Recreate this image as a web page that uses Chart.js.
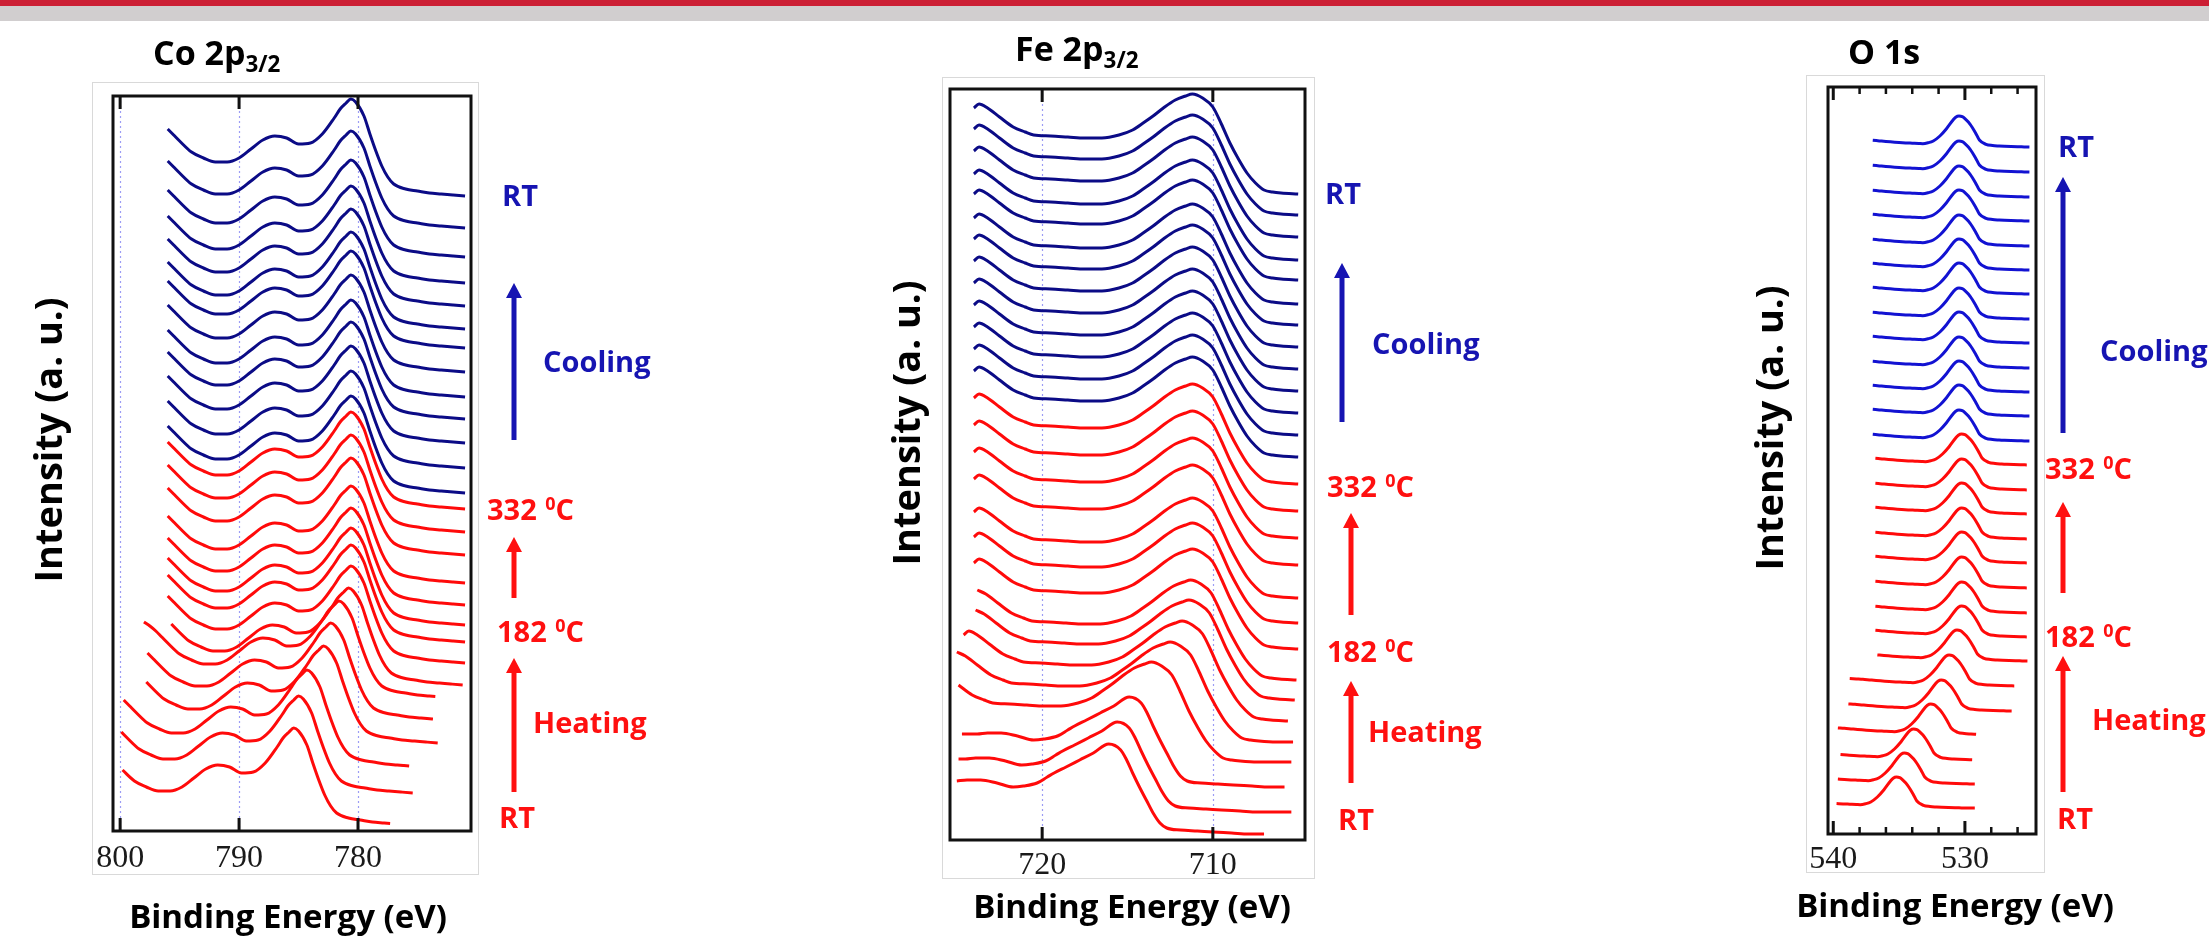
<!DOCTYPE html>
<html>
<head>
<meta charset="utf-8">
<title>In situ XPS heating / cooling series</title>
<script src="https://cdn.jsdelivr.net/npm/chart.js@4.4.1/dist/chart.umd.min.js"></script>
<style>
  html, body { margin: 0; padding: 0; background: #fff; }
  body { position: relative; width: 2209px; height: 943px; overflow: hidden; font-family: "Open Sans", sans-serif; }
  #topRed { position: absolute; left: 0; top: 0; width: 100%; height: 6px; background: #cc1f35; }
  #topGray { position: absolute; left: 0; top: 6px; width: 100%; height: 15px; background: #d1cecf; }
  .box { position: absolute; border: 1px solid #d9d9d9; box-sizing: border-box; }
  canvas { position: absolute; }
  .lbl { position: absolute; font-weight: 700; line-height: 1; white-space: nowrap; }
  .lbl sup { font-size: 62%; position: relative; top: -0.55em; vertical-align: baseline; margin-left: 0.05em; }
  .lbl sub { font-size: 66%; position: relative; top: 0.32em; vertical-align: baseline; }
  svg { position: absolute; left: 0; top: 0; }
</style>
</head>
<body>
<div id="topRed"></div>
<div id="topGray"></div>

<div class="box" style="left:92px;top:82px;width:387px;height:793px"></div>
<div class="box" style="left:942px;top:77px;width:373px;height:802px"></div>
<div class="box" style="left:1806px;top:75px;width:239px;height:798px"></div>

<canvas id="coChart"></canvas>
<canvas id="feChart"></canvas>
<canvas id="oChart"></canvas>

<svg id="arrows" width="2209" height="943"></svg>

<script>
// ---------- data (energies in eV, intensities in a.u.) ----------
// 28 scans per core level: first 13 = cooling back to RT, next 15 = heating from RT
const coolingCount = 13;

// Co 2p3/2 line shape (scan at 332 C / cooling)
const coEnergy = [797.0, 796.5, 796.0, 795.5, 795.0, 794.0, 793.0, 792.0, 791.0, 790.0, 789.0, 788.0, 787.0, 786.0, 785.0, 784.0, 783.0, 782.0, 781.5, 781.0, 780.6, 780.2, 779.5, 779.0, 778.5, 778.0, 777.5, 777.0, 776.0, 775.0, 774.0, 773.0, 772.5, 772.0, 771.0, 770.0];
const coShape  = [76, 72, 67, 61, 55, 44, 38, 34, 34, 38, 47, 56, 60, 58, 52, 53, 62, 78, 87, 93, 97, 94, 80, 62, 45, 30, 19, 12, 7, 5, 3, 2, 1.5, 1, 0, 0];
// stacking offset, peak shift (charging) and scan window of every trace, top to bottom
const coOffset = [635, 603, 574, 548, 525, 502, 483, 459, 434, 412, 388, 363, 338, 322, 299, 276, 248, 226, 206, 189, 168, 146, 133, 111, 88, 64, 38, 6];
const coShift  = [0, 0, 0, 0, 0, 0, 0, 0, 0, 0, 0, 0, 0, 0, 0, 0, 0, 0, 0, 0, 0, 0.2, 1.0, 1.7, 2.3, 3.7, 4.4, 4.8];
const coHigh   = [796, 796, 796, 796, 796, 796, 796, 796, 796, 796, 796, 796, 796, 796, 796, 796, 796, 796, 796, 796, 796, 796, 798.1, 798.1, 798.1, 800, 800, 800];
const coLow    = [771, 771, 771, 771, 771, 771, 771, 771, 771, 771, 771, 771, 771, 771, 771, 771, 771, 771, 771, 771, 771, 771, 773.1, 773.1, 773.1, 775, 775, 777.1];
const coTicks  = [800, 790, 780];

// Fe 2p3/2: shape A (heated / cooled), shape B (as-prepared RT scans)
const feEnergyA = [725.0, 724.5, 724.0, 723.7, 723.2, 722.5, 721.7, 721.0, 720.5, 719.5, 718.5, 717.5, 716.5, 715.5, 714.7, 714.0, 713.5, 712.9, 712.2, 711.6, 711.2, 710.6, 710.0, 709.5, 709.0, 708.5, 708.0, 707.5, 707.0, 706.5, 706.0, 705.0, 704.0, 703.0, 702.0];
const feShapeA  = [84, 86, 86, 90, 86, 77, 67, 62, 59, 58, 57, 56, 56, 59, 64, 72, 78, 86, 94, 98, 100, 96, 87, 70, 51, 35, 21, 11, 4, 2, 1, 0, 0, 0, 0];
const feEnergyB = [721.5, 721.0, 720.5, 720.1, 719.5, 718.7, 717.75, 716.8, 716.2, 715.4, 714.8, 714.4, 713.7, 712.9, 712.1, 711.2, 710.5, 710.15, 709.8, 709.4, 709.0, 708.6, 708.2, 707.8, 707.0, 706.0, 705.1, 704.0, 703.0, 702.1, 701.0];
const feShapeB  = [54, 53, 53, 53, 54, 54, 51, 47, 48, 51, 57, 61, 67, 74, 81, 90, 84, 74, 61, 47, 34, 21, 11, 6, 4, 3, 2, 1, 0, 0, 0];
const feForm    = [0, 0, 0, 0, 0, 0, 0, 0, 0, 0, 0, 0, 0, 0, 0, 0, 0, 0, 0, 0, 0, 0, 0, 0, 0, 1, 1, 1];
const feOffset  = [646, 625, 603, 580, 560, 536, 515, 493, 471, 449, 427, 405, 383, 356, 329, 302, 275, 242, 217, 191, 160, 140, 119, 98, 78, 53, 28, 6];
const feShift   = [0, 0, 0, 0, 0, 0, 0, 0, 0, 0, 0, 0, 0, 0, 0, 0, 0, 0, 0, 0, 0.1, 0.2, 0.6, 1.3, 2.4, 3.7, 4.4, 4.9];
const feHigh    = [724, 724, 724, 724, 724, 724, 724, 724, 724, 724, 724, 724, 724, 724, 724, 724, 724, 724, 724, 724, 724, 724, 725, 725, 725, 725, 725, 725];
const feLow     = [705, 705, 705, 705, 705, 705, 705, 705, 705, 705, 705, 705, 705, 705, 705, 705, 705, 705, 705, 705, 705, 705, 705, 705, 705, 705, 705, 707];
const feTicks   = [720, 710];

// O 1s
const oEnergy = [541.0, 540.5, 540.0, 539.5, 539.0, 538.5, 538.0, 537.5, 537.0, 536.5, 536.0, 535.5, 535.0, 534.5, 534.0, 533.5, 533.2, 532.8, 532.4, 531.9, 531.4, 530.9, 530.7, 530.45, 530.2, 530.0, 529.6, 529.2, 528.9, 528.4, 527.9, 527.4, 527.0, 526.5, 526.0, 525.5, 525.1, 524.5, 524.0, 523.0];
const oShape  = [9, 8.8, 8.5, 8.3, 8, 7.8, 7.5, 7.1, 6.7, 6.1, 5.5, 5, 4.5, 4.1, 3.8, 3.5, 3.3, 4.2, 6, 11, 18.3, 27, 29.8, 31, 30.3, 28.3, 22.7, 14.3, 7, 2.7, 1.5, 1, 0.7, 0.4, 0.2, 0.1, 0, 0, 0, 0];
const oOffset = [687, 662, 637, 613, 588, 564, 540, 515, 491, 466, 442, 418, 393, 369, 344, 320, 295, 271, 246, 221, 197, 173, 148, 123, 99, 74, 50, 26];
const oShift  = [0, 0, 0, 0, 0, 0, 0, 0, 0, 0, 0, 0, 0, -0.2, -0.2, -0.2, -0.2, -0.2, -0.2, -0.2, -0.2, 0.15, 0.75, 1.35, 2.15, 3.45, 4.15, 4.75];
const oHigh   = [537, 537, 537, 537, 537, 537, 537, 537, 537, 537, 537, 537, 537, 537, 537, 537, 537, 537, 537, 537, 537, 537, 539, 539, 539.9, 539.9, 539.9, 539.9];
const oLow    = [525.1, 525.1, 525.1, 525.1, 525.1, 525.1, 525.1, 525.1, 525.1, 525.1, 525.1, 525.1, 525.1, 525.1, 525.1, 525.1, 525.1, 525.1, 525.1, 525.1, 525.1, 525.1, 526.1, 526.1, 529, 529, 529, 529];
const oTicks  = [540, 530];
const oMinor  = [538, 536, 534, 532, 528, 526];

// ---------- helpers ----------
const RED = '#ff0a0a';

function buildTraces(shapes, form, offset, shift, high, low, blue) {
  return offset.map((off, i) => {
    const s = shapes[form ? form[i] : 0];
    const pts = [];
    s.e.forEach((e, k) => {
      const x = e + shift[i];
      if (x <= high[i] + 1e-6 && x >= low[i] - 1e-6) pts.push({ x: x, y: s.v[k] + off });
    });
    return {
      data: pts,
      borderColor: i < coolingCount ? blue : RED,
      borderWidth: 3,
      pointRadius: 0,
      fill: false,
      cubicInterpolationMode: 'monotone',
      borderJoinStyle: 'round'
    };
  });
}

// frame, inner ticks and dotted guide lines
const framePlugin = {
  id: 'frame',
  beforeDatasetsDraw(chart, args, o) {
    const { ctx, chartArea: a, scales: { x } } = chart;
    ctx.save();
    ctx.strokeStyle = '#9c9cf5';
    ctx.lineWidth = 1.2;
    ctx.setLineDash([2, 3]);
    (o.guides || []).forEach(v => {
      const px = Math.round(x.getPixelForValue(v)) + 0.5;
      ctx.beginPath(); ctx.moveTo(px, a.top); ctx.lineTo(px, a.bottom); ctx.stroke();
    });
    ctx.restore();
  },
  afterDatasetsDraw(chart, args, o) {
    const { ctx, chartArea: a, scales: { x } } = chart;
    ctx.save();
    ctx.strokeStyle = '#111';
    ctx.lineWidth = 3;
    ctx.strokeRect(a.left, a.top, a.right - a.left, a.bottom - a.top);
    const tick = (v, len, w) => {
      const px = x.getPixelForValue(v);
      ctx.lineWidth = w;
      ctx.beginPath();
      ctx.moveTo(px, a.top); ctx.lineTo(px, a.top + len);
      ctx.moveTo(px, a.bottom); ctx.lineTo(px, a.bottom - len);
      ctx.stroke();
    };
    (o.major || []).forEach(v => tick(v, 13, 3));
    (o.minor || []).forEach(v => tick(v, 7, 2.5));
    ctx.restore();
  }
};

function makePanel(id, frame, xMin, xMax, ticks, minor, guides, labelPad, datasets) {
  const padL = 40, padR = 40, padT = 30, padB = 10, tickFont = 32;
  const axisH = tickFont + 2 * labelPad;
  const w = frame.r - frame.l + padL + padR;
  const h = frame.b - frame.t + padT + axisH + padB;
  const cv = document.getElementById(id);
  cv.width = w; cv.height = h;
  cv.style.left = (frame.l - padL) + 'px';
  cv.style.top = (frame.t - padT) + 'px';
  cv.style.width = w + 'px';
  cv.style.height = h + 'px';

  return new Chart(cv, {
    type: 'line',
    data: { datasets: datasets },
    options: {
      responsive: false,
      devicePixelRatio: 1,
      animation: false,
      events: [],
      layout: { padding: { left: padL, right: padR, top: padT, bottom: padB } },
      plugins: {
        legend: { display: false },
        tooltip: { enabled: false },
        frame: { major: ticks, minor: minor, guides: guides }
      },
      scales: {
        x: {
          type: 'linear',
          reverse: true,
          min: xMin,
          max: xMax,
          afterBuildTicks: s => { s.ticks = ticks.map(v => ({ value: v })); },
          grid: { display: false, drawTicks: false },
          border: { display: false },
          ticks: {
            autoSkip: false,
            maxRotation: 0,
            padding: labelPad,
            color: '#1a1a1a',
            font: { family: 'Liberation Serif', size: tickFont, lineHeight: 1 },
            callback: v => String(v)
          }
        },
        y: { display: false, min: 0, max: frame.b - frame.t }
      }
    },
    plugins: [framePlugin]
  });
}

function addText(html, x, y, size, color, mode) {
  const d = document.createElement('div');
  d.className = 'lbl';
  d.innerHTML = html;
  d.style.fontSize = size + 'px';
  d.style.color = color;
  d.style.left = x + 'px';
  if (mode === 'base') {
    d.style.top = (y - 0.888 * size) + 'px';
  } else {
    d.style.top = y + 'px';
    if (mode === 'center') d.style.transform = 'translate(-50%,-50%)';
    else if (mode === 'rot') d.style.transform = 'translate(-50%,-50%) rotate(-90deg)';
    else d.style.transform = 'translate(0,-50%)';
  }
  d.style.zIndex = 5;
  document.body.appendChild(d);
}

function addArrow(x, yTip, yEnd, color) {
  const svg = document.getElementById('arrows');
  const ns = 'http://www.w3.org/2000/svg';
  const head = 15, half = 8;
  const ln = document.createElementNS(ns, 'line');
  ln.setAttribute('x1', x); ln.setAttribute('x2', x);
  ln.setAttribute('y1', yTip + head - 1); ln.setAttribute('y2', yEnd);
  ln.setAttribute('stroke', color); ln.setAttribute('stroke-width', 5);
  svg.appendChild(ln);
  const pg = document.createElementNS(ns, 'polygon');
  pg.setAttribute('points', `${x},${yTip} ${x - half},${yTip + head} ${x + half},${yTip + head}`);
  pg.setAttribute('fill', color);
  svg.appendChild(pg);
}

// ---------- charts ----------
makePanel('coChart', { l: 113, t: 96, r: 471, b: 831 }, 770.5, 800.6, coTicks, [], coTicks, 12,
  buildTraces([{ e: coEnergy, v: coShape }], null, coOffset, coShift, coHigh, coLow, '#0b0b86'));

makePanel('feChart', { l: 950, t: 89, r: 1305, b: 840 }, 704.6, 725.4, feTicks, [], feTicks, 10,
  buildTraces([{ e: feEnergyA, v: feShapeA }, { e: feEnergyB, v: feShapeB }], feForm, feOffset, feShift, feHigh, feLow, '#0b0b86'));

makePanel('oChart', { l: 1828, t: 87, r: 2036, b: 834 }, 524.6, 540.4, oTicks, oMinor, [], 10,
  buildTraces([{ e: oEnergy, v: oShape }], null, oOffset, oShift, oHigh, oLow, '#1212d2'));

// ---------- titles and axis labels ----------
const LBLUE = '#1614b2', LRED = '#ff1010';

addText('Co 2p<sub>3/2</sub>', 153, 65, 34, '#000', 'base');
addText('Fe 2p<sub>3/2</sub>', 1015, 61, 34, '#000', 'base');
addText('O 1s', 1848, 64, 34, '#000', 'base');

addText('Intensity (a. u.)', 47, 440, 38, '#000', 'rot');
addText('Intensity (a. u.)', 905, 423, 38, '#000', 'rot');
addText('Intensity (a. u.)', 1768, 428, 38, '#000', 'rot');

addText('Binding Energy (eV)', 288, 915, 33, '#000', 'center');
addText('Binding Energy (eV)', 1132, 905, 33, '#000', 'center');
addText('Binding Energy (eV)', 1955, 904, 33, '#000', 'center');

// temperature annotations
const notes = [
  { x: 502, rt: 194, cx: 543, cool: 360, hx: 487, h332: 508, lx: 497, h182: 630, gx: 533, heat: 721, rx: 499, rt2: 816 },
  { x: 1325, rt: 192, cx: 1372, cool: 342, hx: 1327, h332: 485, lx: 1327, h182: 650, gx: 1368, heat: 730, rx: 1338, rt2: 818 },
  { x: 2058, rt: 145, cx: 2100, cool: 349, hx: 2045, h332: 467, lx: 2045, h182: 635, gx: 2092, heat: 718, rx: 2057, rt2: 817 }
];
notes.forEach(n => {
  addText('RT', n.x, n.rt, 29, LBLUE, 'left');
  addText('Cooling', n.cx, n.cool, 29, LBLUE, 'left');
  addText('332 <sup>0</sup>C', n.hx, n.h332, 29, LRED, 'left');
  addText('182 <sup>0</sup>C', n.lx, n.h182, 29, LRED, 'left');
  addText('Heating', n.gx, n.heat, 29, LRED, 'left');
  addText('RT', n.rx, n.rt2, 29, LRED, 'left');
});

addArrow(514, 283, 440, LBLUE);
addArrow(514, 537, 598, LRED);
addArrow(514, 658, 792, LRED);

addArrow(1342, 263, 422, LBLUE);
addArrow(1351, 513, 615, LRED);
addArrow(1351, 681, 783, LRED);

addArrow(2063, 177, 433, LBLUE);
addArrow(2063, 502, 593, LRED);
addArrow(2063, 656, 792, LRED);
</script>
</body>
</html>
